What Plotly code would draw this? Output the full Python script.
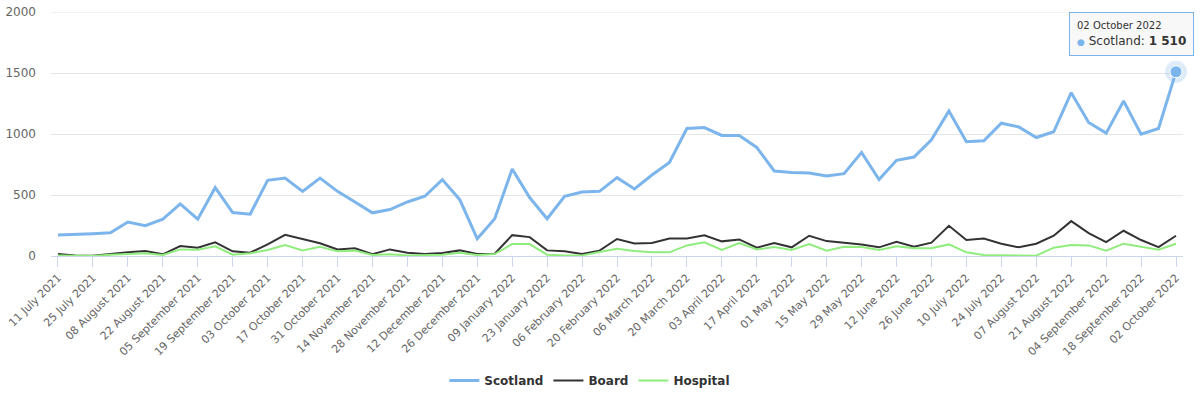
import pandas as pd
import plotly.graph_objects as go

weeks = pd.date_range("2021-07-11", periods=65, freq="7D")

scotland = [172, 175, 182, 190, 278, 248, 302, 427, 302, 560, 356, 343, 620, 639, 530, 639,
            530, 443, 354, 381, 443, 490, 626, 462, 141, 305, 713, 479, 305, 490, 525, 530,
            642, 550, 664, 767, 1045, 1053, 988, 988, 890, 697, 685, 680, 656, 675, 849, 626,
            784, 811, 952, 1189, 936, 944, 1088, 1058, 971, 1018, 1339, 1094, 1007, 1271, 998,
            1045, 1510]
board = [16, 5, 2, 19, 30, 40, 14, 82, 68, 112, 38, 27, 95, 174, 140, 105,
         54, 63, 14, 54, 27, 16, 24, 46, 16, 19, 171, 155, 46, 38, 16, 44,
         139, 103, 106, 144, 144, 169, 120, 136, 68, 106, 71, 166, 122, 109, 95, 71,
         117, 76, 109, 248, 131, 144, 101, 71, 101, 166, 286, 188, 114, 207, 131,
         73, 166]
hospital = [5, 3, 0, 11, 16, 22, 8, 54, 52, 79, 11, 22, 49, 90, 46, 76,
            38, 44, 8, 14, 5, 5, 11, 27, 8, 16, 98, 98, 11, 5, 5, 33,
            60, 41, 30, 30, 87, 112, 49, 106, 54, 73, 49, 98, 44, 76, 73, 49,
            79, 63, 63, 95, 30, 8, 5, 5, 3, 68, 90, 87, 44, 101, 76,
            52, 101]

tick_labels = ["11 July 2021", "25 July 2021", "08 August 2021", "22 August 2021",
               "05 September 2021", "19 September 2021", "03 October 2021", "17 October 2021",
               "31 October 2021", "14 November 2021", "28 November 2021", "12 December 2021",
               "26 December 2021", "09 January 2022", "23 January 2022", "06 February 2022",
               "20 February 2022", "06 March 2022", "20 March 2022", "03 April 2022",
               "17 April 2022", "01 May 2022", "15 May 2022", "29 May 2022", "12 June 2022",
               "26 June 2022", "10 July 2022", "24 July 2022", "07 August 2022",
               "21 August 2022", "04 September 2022", "18 September 2022", "02 October 2022"]
tick_vals = list(weeks[::2])
y_ticks = [0, 500, 1000, 1500, 2000]

FONT = "DejaVu Sans"

fig = go.Figure()
fig.add_trace(go.Scatter(x=weeks, y=scotland, name="Scotland", mode="lines",
                         line=dict(color="#7cb5ec", width=3)))
fig.add_trace(go.Scatter(x=weeks, y=board, name="Board", mode="lines",
                         line=dict(color="#333333", width=2)))
fig.add_trace(go.Scatter(x=weeks, y=hospital, name="Hospital", mode="lines",
                         line=dict(color="#90ed7d", width=2)))
# hovered point highlight
fig.add_trace(go.Scatter(x=[weeks[-1]], y=[scotland[-1]], mode="markers", showlegend=False,
                         marker=dict(size=22, color="rgba(124,181,236,0.25)"), hoverinfo="skip",
                         cliponaxis=False))
fig.add_trace(go.Scatter(x=[weeks[-1]], y=[scotland[-1]], mode="markers", showlegend=False,
                         marker=dict(size=12, color="#7cb5ec", line=dict(color="#ffffff", width=1)),
                         hoverinfo="skip", cliponaxis=False))

# top gridline (plotly drops the grid line that sits on the range edge)
fig.add_shape(type="line", xref="paper", yref="y", x0=0, x1=1, y0=y_ticks[-1], y1=y_ticks[-1],
              line=dict(color="#e6e6e6", width=1), layer="below")

fig.add_annotation(x=weeks[-1], y=scotland[-1], xref="x", yref="y", showarrow=False,
                   xanchor="right", yanchor="bottom", xshift=18, yshift=16,
                   align="left",
                   text=("<span style='font-size:10px'>02 October 2022</span><br>"
                         "<span style='color:#7cb5ec;font-size:9px'>●</span> Scotland: <b>1 510</b>"),
                   font=dict(family=FONT, size=12, color="#333333"),
                   bgcolor="rgba(247,247,247,0.9)", bordercolor="#7cb5ec", borderwidth=1,
                   borderpad=7)

fig.update_layout(
    width=1200, height=399,
    margin=dict(l=51, r=17, t=12, b=143, autoexpand=False),
    paper_bgcolor="white", plot_bgcolor="white",
    font=dict(family=FONT, size=11, color="#666666"),
    showlegend=True,
    legend=dict(orientation="h", x=0.476, xanchor="center", y=-0.51, yanchor="middle",
                font=dict(family=FONT, size=12, color="#333333", weight="bold"),
                itemwidth=30),
    hovermode=False,
)
fig.update_xaxes(
    automargin=False,
    range=[weeks[0] - pd.Timedelta(days=2.8), weeks[-1] + pd.Timedelta(days=2.8)],
    tickvals=tick_vals, ticktext=tick_labels, tickangle=-45,
    showgrid=False, showline=True, linecolor="#ccd6eb", linewidth=1,
    ticks="outside", ticklen=10, tickcolor="#ccd6eb",
    tickfont=dict(family=FONT, size=11, color="#666666"),
)
fig.update_yaxes(
    automargin=False,
    range=[0, 2000], tickvals=y_ticks,
    showgrid=True, gridcolor="#e6e6e6", gridwidth=1, zeroline=False,
    tickfont=dict(family=FONT, size=12, color="#666666"), ticks="", ticklabelstandoff=14,
)

fig.write_html("out.html", config={"displayModeBar": False},
               post_script="document.body.style.margin='0';document.body.style.overflow='hidden';")
